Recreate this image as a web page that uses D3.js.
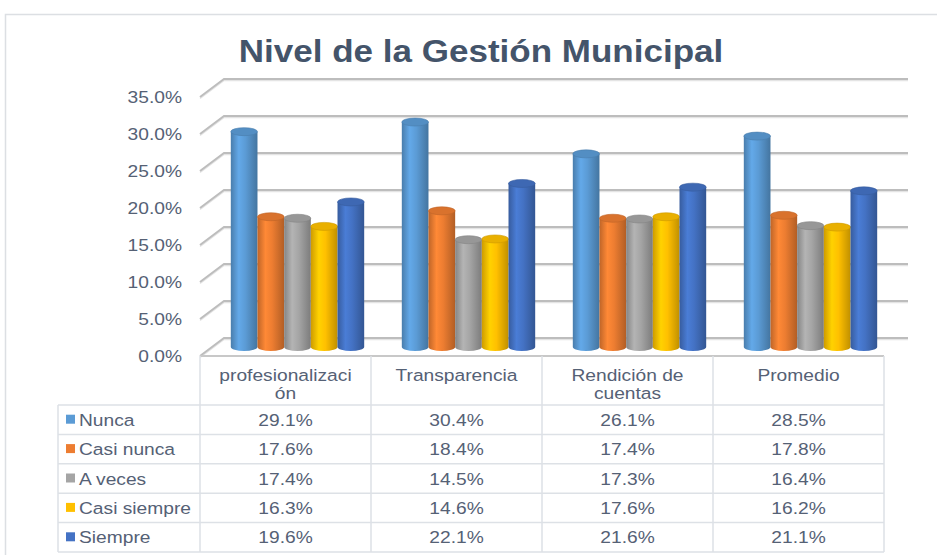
<!DOCTYPE html>
<html>
<head>
<meta charset="utf-8">
<script src="https://cdn.jsdelivr.net/npm/d3@7"></script>
<style>
  body { margin: 0; background: #fff; }
  text { font-family: "Liberation Sans", Arial, Helvetica, sans-serif; }
</style>
</head>
<body>
<div id="chart"></div>
<script>
// categories (header text is wrapped like in the original table)
const categories = ["profesionalización", "Transparencia", "Rendición de cuentas", "Promedio"];
const categoryLines = [["profesionalizaci", "ón"], ["Transparencia"], ["Rendición de", "cuentas"], ["Promedio"]];

// series
const seriesNames = ["Nunca", "Casi nunca", "A veces", "Casi siempre", "Siempre"];
const nunca = [29.1, 30.4, 26.1, 28.5];
const casiNunca = [17.6, 18.4, 17.4, 17.8];
const aVeces = [17.4, 14.5, 17.3, 16.4];
const casiSiempre = [16.3, 14.6, 17.6, 16.2];
const siempre = [19.6, 22.1, 21.6, 21.1];
const seriesValues = [nunca, casiNunca, aVeces, casiSiempre, siempre];
const seriesColors = ["#5b9bd5", "#ed7d31", "#a5a5a5", "#ffc000", "#4472c4"];

// tick labels
const yTicks = [0, 5, 10, 15, 20, 25, 30, 35];

const W = 937, H = 555;
const textColor = "#556175";
const stretch = 1.13;   // the original text is a bit wide
const depthX = 24, depthY = 18;

const svg = d3.select("#chart").append("svg")
    .attr("width", W)
    .attr("height", H);

const defs = svg.append("defs");

// outer frame
svg.append("rect")
    .attr("x", 5.5).attr("y", 14.5)
    .attr("width", 960).attr("height", 570)
    .attr("fill", "#fff")
    .attr("stroke", "#dcdfe3")
    .attr("stroke-width", 1.5);

// helper: horizontally stretched text
function wideText(g, x, y, str, anchor, size, weight, color) {
    return g.append("text")
        .attr("transform", `translate(${x},${y}) scale(${stretch},1)`)
        .attr("text-anchor", anchor)
        .style("font-size", size + "px")
        .style("font-weight", weight || "normal")
        .attr("fill", color || textColor)
        .text(str);
}

// title
wideText(svg, 481, 62, "Nivel de la Gestión Municipal", "middle", 31, "bold", "#44546a");

// scales: x is the front plane, y is the back wall
const x = d3.scaleBand()
    .domain(categories)
    .range([200, 884])
    .paddingInner(0.22)
    .paddingOuter(0.11);

const x1 = d3.scaleBand()
    .domain(seriesNames)
    .range([0, x.bandwidth()])
    .padding(0);

const y = d3.scaleLinear()
    .domain([0, 35])
    .range([338, 79]);

const left = x.range()[0];
const right = x.range()[1];

// gridlines with the 3D side diagonal
const grid = svg.append("g").attr("class", "grid");
yTicks.forEach(t => {
    const yb = y(t);
    grid.append("path")
        .attr("d", `M${left},${yb + depthY + 1.5}L${left + depthX},${yb + 1.5}L${right + depthX},${yb + 1.5}`)
        .attr("fill", "none")
        .attr("stroke", "#e4e4e4")
        .attr("stroke-width", 1.5);
    grid.append("path")
        .attr("d", `M${left},${yb + depthY}L${left + depthX},${yb}L${right + depthX},${yb}`)
        .attr("fill", "none")
        .attr("stroke", "#bdbdbd")
        .attr("stroke-width", 2);
});

// y tick labels, aligned on the front plane
const axisG = svg.append("g").attr("class", "y-axis");
yTicks.forEach(t => {
    wideText(axisG, 182, y(t) + depthY + 6, t.toFixed(1) + "%", "end", 17);
});

// cylinder gradients
seriesColors.forEach((c, i) => {
    const base = d3.color(c);
    const grad = defs.append("linearGradient")
        .attr("id", "cyl" + i)
        .attr("x1", "0%").attr("x2", "100%")
        .attr("y1", "0%").attr("y2", "0%");
    grad.append("stop").attr("offset", "0%").attr("stop-color", base.darker(0.6));
    grad.append("stop").attr("offset", "30%").attr("stop-color", base.brighter(0.25));
    grad.append("stop").attr("offset", "55%").attr("stop-color", base);
    grad.append("stop").attr("offset", "100%").attr("stop-color", base.darker(0.8));
});

// bars (cylinders) sit half way into the depth
const rx = x1.bandwidth() / 2, ry = 4;
const bars = svg.append("g").attr("class", "bars");
categories.forEach((cat, ci) => {
    seriesNames.forEach((s, si) => {
        const v = seriesValues[si][ci];
        const cx = x(cat) + x1(s) + rx + depthX / 2;
        const yTop = y(v) + depthY / 2;
        const yBot = y(0) + depthY / 2;
        const g = bars.append("g");
        g.append("path")
            .attr("d", `M${cx - rx},${yTop}L${cx - rx},${yBot}` +
                `A${rx},${ry} 0 0 0 ${cx + rx},${yBot}` +
                `L${cx + rx},${yTop}Z`)
            .attr("fill", `url(#cyl${si})`);
        g.append("ellipse")
            .attr("cx", cx).attr("cy", yTop)
            .attr("rx", rx).attr("ry", ry)
            .attr("fill", d3.color(seriesColors[si]).darker(0.25))
            .attr("stroke", d3.color(seriesColors[si]).darker(0.6))
            .attr("stroke-width", 0.6);
    });
});

// data table
const tableTop = 356, headBottom = 405, tableBottom = 552;
const labelLeft = 58;
const rows = d3.scaleBand()
    .domain(seriesNames)
    .range([headBottom, tableBottom]);

const table = svg.append("g").attr("class", "table");
const lineColor = "#dde1e6";

// horizontal lines
table.append("line")
    .attr("x1", left).attr("x2", right)
    .attr("y1", tableTop).attr("y2", tableTop)
    .attr("stroke", "#c8c8c8").attr("stroke-width", 2);
seriesNames.forEach(s => {
    table.append("line")
        .attr("x1", labelLeft).attr("x2", right)
        .attr("y1", rows(s)).attr("y2", rows(s))
        .attr("stroke", lineColor).attr("stroke-width", 1.5);
});
table.append("line")
    .attr("x1", labelLeft).attr("x2", right)
    .attr("y1", tableBottom).attr("y2", tableBottom)
    .attr("stroke", lineColor).attr("stroke-width", 1.5);

// vertical lines
table.append("line")
    .attr("x1", labelLeft).attr("x2", labelLeft)
    .attr("y1", headBottom).attr("y2", tableBottom)
    .attr("stroke", lineColor).attr("stroke-width", 1.5);
d3.range(categories.length + 1).forEach(i => {
    const xx = left + i * x.step();
    table.append("line")
        .attr("x1", xx).attr("x2", xx)
        .attr("y1", tableTop).attr("y2", tableBottom)
        .attr("stroke", lineColor).attr("stroke-width", 1.5);
});

// header text
categories.forEach((cat, ci) => {
    const cx = x(cat) + x.bandwidth() / 2;
    categoryLines[ci].forEach((ln, li) => {
        wideText(table, cx, 381 + li * 18, ln, "middle", 17);
    });
});

// row labels with legend keys, and values
seriesNames.forEach((s, si) => {
    const cy = rows(s) + rows.bandwidth() / 2;
    table.append("rect")
        .attr("x", 66).attr("y", cy - 5)
        .attr("width", 9).attr("height", 9)
        .attr("fill", seriesColors[si]);
    wideText(table, 79, cy + 6, s, "start", 17);
    categories.forEach((cat, ci) => {
        const cx = x(cat) + x.bandwidth() / 2;
        wideText(table, cx, cy + 6, seriesValues[si][ci].toFixed(1) + "%", "middle", 17);
    });
});
</script>
</body>
</html>
